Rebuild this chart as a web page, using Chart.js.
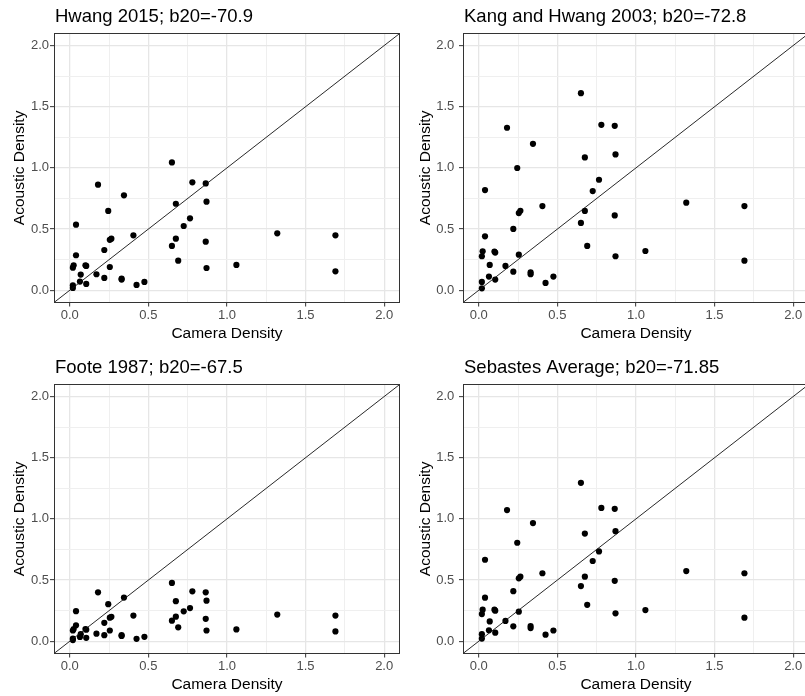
<!DOCTYPE html>
<html>
<head>
<meta charset="utf-8">
<script src="https://cdn.jsdelivr.net/npm/chart.js@4.4.1/dist/chart.umd.min.js"></script>
<style>
html, body { margin:0; padding:0; background:#ffffff; width:805px; height:696px; overflow:hidden; position:relative; }
canvas { position:absolute; }
</style>
</head>
<body>
<canvas id="c0"></canvas>
<canvas id="c1"></canvas>
<canvas id="c2"></canvas>
<canvas id="c3"></canvas>
<script>
// ---- data ----
const cameraDensity = [0.65,0.18,0.345,0.78,0.865,0.87,0.675,0.245,0.04,0.765,0.725,0.405,0.255,0.265,0.675,0.65,0.865,1.32,1.69,0.22,0.04,0.69,0.025,0.02,0.10,0.105,0.255,0.87,1.06,1.69,0.07,0.17,0.22,0.33,0.33,0.065,0.105,0.425,0.475,0.02,0.02];
const hwang2015 = [1.045,0.863,0.776,0.882,0.873,0.724,0.707,0.648,0.536,0.588,0.525,0.449,0.412,0.422,0.422,0.362,0.397,0.465,0.449,0.329,0.286,0.242,0.204,0.185,0.204,0.199,0.190,0.182,0.207,0.155,0.128,0.131,0.101,0.095,0.087,0.071,0.052,0.044,0.068,0.041,0.019];
const kangHwang2003 = [1.611,1.328,1.197,1.352,1.344,1.110,1.086,0.999,0.819,0.903,0.811,0.688,0.631,0.650,0.648,0.550,0.612,0.716,0.688,0.501,0.441,0.362,0.318,0.278,0.316,0.308,0.291,0.278,0.321,0.242,0.207,0.199,0.152,0.147,0.131,0.112,0.087,0.060,0.112,0.068,0.016];
const foote1987 = [0.477,0.400,0.357,0.408,0.400,0.332,0.328,0.303,0.246,0.271,0.245,0.210,0.193,0.200,0.201,0.168,0.183,0.218,0.210,0.151,0.130,0.114,0.100,0.088,0.100,0.095,0.088,0.088,0.097,0.080,0.058,0.062,0.050,0.050,0.044,0.035,0.028,0.020,0.036,0.022,0.010];
const sebastesAverage = [1.295,1.072,0.966,1.090,1.082,0.900,0.880,0.805,0.666,0.734,0.656,0.556,0.514,0.528,0.528,0.451,0.494,0.574,0.556,0.409,0.356,0.298,0.258,0.222,0.258,0.250,0.242,0.228,0.255,0.193,0.162,0.166,0.122,0.124,0.108,0.090,0.070,0.054,0.088,0.058,0.022];
const panelTitles = ["Hwang 2015; b20=-70.9", "Kang and Hwang 2003; b20=-72.8", "Foote 1987; b20=-67.5", "Sebastes Average; b20=-71.85"];
const xAxisTitle = "Camera Density";
const yAxisTitle = "Acoustic Density";
const majorTicks = [0, 0.5, 1, 1.5, 2];
const minorTicks = [0.25, 0.75, 1.25, 1.75];
const axisRange = [-0.1, 2.1];

// ---- rendering ----
const FONT = '"Liberation Sans", Arial, Helvetica, sans-serif';
Chart.defaults.font.family = FONT;
const allTicks = majorTicks.concat(minorTicks).sort((a,b)=>a-b);
const isMajor = v => majorTicks.some(m => Math.abs(m - v) < 1e-9);

const panelDecor = {
  id: 'panelDecor',
  afterDraw(chart, args, opts) {
    const { ctx, chartArea: a } = chart;
    ctx.save();
    ctx.strokeStyle = '#333333';
    ctx.lineWidth = 1;
    const l = Math.round(a.left), t = Math.round(a.top), r = Math.round(a.right), b = Math.round(a.bottom);
    ctx.strokeRect(l + 0.5, t + 0.5, r - l - 1, b - t - 1);
    ctx.fillStyle = '#000000';
    ctx.font = '18.5px ' + FONT;
    ctx.textAlign = 'left';
    ctx.textBaseline = 'alphabetic';
    ctx.fillText(opts.text, a.left + 1, 22);
    ctx.restore();
  }
};

function makeAxis(kind, p) {
  const common = {
    type: 'linear',
    min: axisRange[0],
    max: axisRange[1],
    afterBuildTicks: s => { s.ticks = allTicks.map(v => ({ value: v })); },
    border: { display: false },
    grid: {
      color: c => (c.tick && isMajor(c.tick.value)) ? '#E6E6E6' : '#EFEFEF',
      lineWidth: c => (c.tick && isMajor(c.tick.value)) ? 1.3 : 1,
      drawTicks: true,
      tickLength: 4,
      tickColor: c => (c.tick && isMajor(c.tick.value)) ? '#333333' : 'rgba(0,0,0,0)',
      tickWidth: 1
    },
    ticks: {
      autoSkip: false,
      maxRotation: 0,
      color: '#4D4D4D',
      font: { size: 13 },
      callback: v => isMajor(v) ? Number(v).toFixed(1) : ''
    },
    title: { display: true, color: '#000000', font: { size: 15.5 } }
  };
  if (kind === 'x') {
    common.position = 'bottom';
    common.afterFit = s => { s.height = 42.5; };
    common.ticks.padding = 1;
    common.title.text = xAxisTitle;
    common.title.padding = { top: 0, bottom: 1.7 };
  } else {
    common.position = 'left';
    common.afterFit = s => { s.width = p.yw; };
    common.ticks.padding = p.ypad;
    common.title.text = yAxisTitle;
    common.title.padding = { top: p.ytp, bottom: 0 };
  }
  return common;
}

const panels = [
  { id: 'c0', title: panelTitles[0], y: hwang2015,       left: 0,   top: 0,   width: 403, yw: 54, ypad: 1,   ytp: 10.2 },
  { id: 'c1', title: panelTitles[1], y: kangHwang2003,   left: 405, top: 0,   width: 407, yw: 58, ypad: 4.7, ytp: 11.2 },
  { id: 'c2', title: panelTitles[2], y: foote1987,       left: 0,   top: 351, width: 403, yw: 54, ypad: 1,   ytp: 10.2 },
  { id: 'c3', title: panelTitles[3], y: sebastesAverage, left: 405, top: 351, width: 407, yw: 58, ypad: 4.7, ytp: 11.2 }
];

panels.forEach(p => {
  const cv = document.getElementById(p.id);
  cv.width = p.width; cv.height = 345;
  cv.style.left = p.left + 'px'; cv.style.top = p.top + 'px';
  cv.style.width = p.width + 'px'; cv.style.height = '345px';
  new Chart(cv, {
    type: 'scatter',
    data: {
      datasets: [
        {
          type: 'line',
          data: axisRange.map(v => ({ x: v, y: v })),
          borderColor: '#111111',
          borderWidth: 0.9,
          pointRadius: 0,
          fill: false
        },
        {
          data: cameraDensity.map((x, i) => ({ x: x, y: p.y[i] })),
          backgroundColor: '#000000',
          borderWidth: 0,
          pointRadius: 3.1,
          pointHoverRadius: 3.1
        }
      ]
    },
    options: {
      responsive: false,
      devicePixelRatio: 1,
      animation: false,
      events: [],
      layout: { padding: { top: 33.3, left: 0, right: 0, bottom: 0 } },
      plugins: {
        legend: { display: false },
        tooltip: { enabled: false },
        title: { display: false },
        panelDecor: { text: p.title }
      },
      scales: { x: makeAxis('x', p), y: makeAxis('y', p) }
    },
    plugins: [panelDecor]
  });
});
</script>
</body>
</html>
